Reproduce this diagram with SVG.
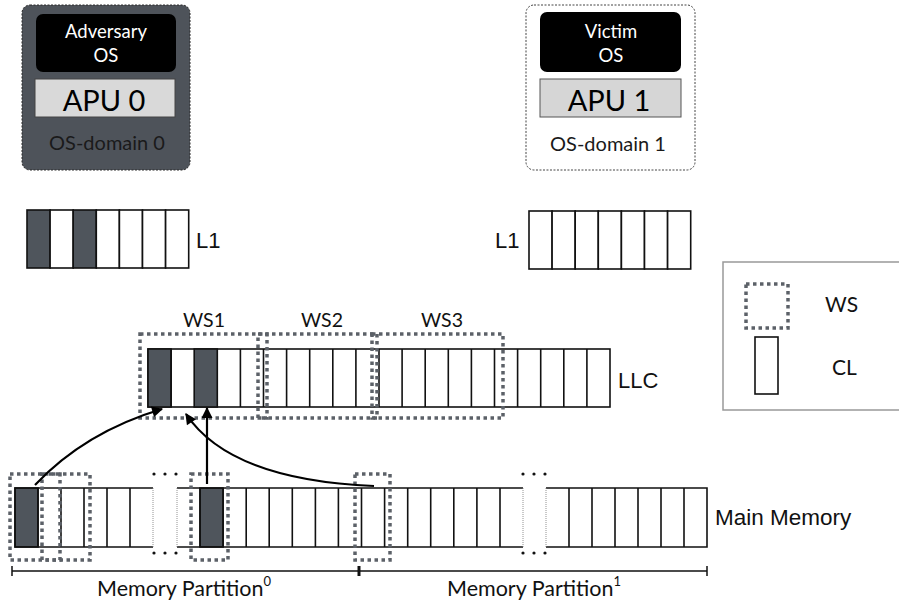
<svg xmlns="http://www.w3.org/2000/svg" width="899" height="605" viewBox="0 0 899 605">
<defs>
<style>
.gill{font-family:Lato,"Open Sans","Liberation Sans",sans-serif;}
.arial{font-family:"Liberation Sans",Arial,sans-serif;fill:#111;}
.cell{fill:#fff;stroke:#111;stroke-width:1.6;}
.dark{fill:#4f555c;stroke:#111;stroke-width:1.6;}
.ws{fill:none;stroke:#5c6168;stroke-width:3.5;stroke-dasharray:3.5 3.5;}
.thin{stroke:#777;stroke-width:0.8;stroke-dasharray:1 1;}
.edge{fill:none;stroke:#111;stroke-width:1.6;}
.conn{fill:none;stroke:#000;stroke-width:2.2;}
.dot{fill:#111;}
</style>
<marker id="ah" viewBox="0 0 10 10" refX="9" refY="5" markerWidth="5.5" markerHeight="5" orient="auto" markerUnits="strokeWidth">
<path d="M0,0 L10,5 L0,10 z" fill="#000"/>
</marker>
</defs>
<rect width="899" height="605" fill="#fff"/>

<g id="adversary-os-domain">
<rect x="22" y="5" width="168" height="165" rx="8" fill="#4e535a" stroke="#2a2a2a" stroke-width="1" stroke-dasharray="2 1.5"/>
<rect x="36" y="14" width="140" height="58" rx="7" fill="#000"/>
<text class="gill" x="106" y="38" font-size="18.5" fill="#fff" text-anchor="middle">Adversary</text>
<text class="gill" x="106" y="62" font-size="18.5" fill="#fff" text-anchor="middle">OS</text>
<rect x="35" y="79" width="140" height="38" fill="#d9d9d9" stroke="#444" stroke-width="1"/>
<text class="gill" x="104" y="111" font-size="29" fill="#000" text-anchor="middle">APU 0</text>
<text class="gill" x="107" y="150" font-size="20" fill="#1a1a1a" text-anchor="middle">OS-domain 0</text>
</g>

<g id="victim-os-domain">
<rect x="526" y="5" width="169" height="165" rx="8" fill="#fff" stroke="#444" stroke-width="1" stroke-dasharray="2 1.5"/>
<rect x="540" y="12" width="141" height="60" rx="7" fill="#000"/>
<text class="gill" x="611" y="38" font-size="18.5" fill="#fff" text-anchor="middle">Victim</text>
<text class="gill" x="611" y="62" font-size="18.5" fill="#fff" text-anchor="middle">OS</text>
<rect x="540" y="79" width="141" height="38" fill="#d6d6d6" stroke="#555" stroke-width="1"/>
<text class="gill" x="609" y="111" font-size="29" fill="#000" text-anchor="middle">APU 1</text>
<text class="gill" x="608" y="151" font-size="20" fill="#1a1a1a" text-anchor="middle">OS-domain 1</text>
</g>

<g id="l1-adversary">
<rect class="dark" x="27" y="210" width="23.1" height="58"/>
<rect class="cell" x="50.1" y="210" width="23.1" height="58"/>
<rect class="dark" x="73.2" y="210" width="23.1" height="58"/>
<rect class="cell" x="96.3" y="210" width="23.1" height="58"/>
<rect class="cell" x="119.4" y="210" width="23.1" height="58"/>
<rect class="cell" x="142.5" y="210" width="23.1" height="58"/>
<rect class="cell" x="165.6" y="210" width="23.1" height="58"/>
<text class="arial" x="196" y="248" font-size="22">L1</text>
</g>

<g id="l1-victim">
<rect class="cell" x="529" y="211" width="23.1" height="58"/>
<rect class="cell" x="552.1" y="211" width="23.1" height="58"/>
<rect class="cell" x="575.2" y="211" width="23.1" height="58"/>
<rect class="cell" x="598.3" y="211" width="23.1" height="58"/>
<rect class="cell" x="621.4" y="211" width="23.1" height="58"/>
<rect class="cell" x="644.5" y="211" width="23.1" height="58"/>
<rect class="cell" x="667.6" y="211" width="23.1" height="58"/>
<text class="arial" x="495" y="248" font-size="22">L1</text>
</g>

<g id="llc">
<rect class="cell" x="148" y="349" width="462" height="58"/>
<rect class="dark" x="148" y="349" width="23.1" height="58"/>
<rect class="dark" x="194.2" y="349" width="23.1" height="58"/>
<path class="edge" d="M240.4,349V407M263.5,349V407M286.6,349V407M309.7,349V407M332.8,349V407M355.9,349V407M379,349V407M402.1,349V407M425.2,349V407M448.3,349V407M471.4,349V407M494.5,349V407M517.6,349V407M540.7,349V407M563.8,349V407M586.9,349V407M171.1,349V407"/>
<text class="arial" x="618" y="388" font-size="22">LLC</text>
</g>

<g id="ws1">
<rect class="ws" x="140" y="334" width="127" height="84"/>
<text class="gill" x="204" y="327" font-size="19.5" fill="#111" text-anchor="middle">WS1</text>
</g>
<g id="ws2">
<rect class="ws" x="258" y="334" width="119" height="84"/>
<text class="gill" x="322" y="327" font-size="19.5" fill="#111" text-anchor="middle">WS2</text>
</g>
<g id="ws3">
<rect class="ws" x="372" y="334" width="131" height="84"/>
<text class="gill" x="442" y="327" font-size="19.5" fill="#111" text-anchor="middle">WS3</text>
</g>

<g id="main-memory">
<rect class="dark" x="15" y="488" width="23" height="59"/>
<path class="edge" d="M153,488H15V547H153M38,488V547M61,488V547M84,488V547M107,488V547M130,488V547"/>
<line class="thin" x1="153" y1="488" x2="153" y2="547"/>
<rect class="dark" x="200" y="488" width="23.07" height="59"/>
<path class="edge" d="M177,488H523M177,547H523M200,488V547M223.1,488V547M246.2,488V547M269.2,488V547M292.3,488V547M315.4,488V547M338.4,488V547M361.5,488V547M384.6,488V547M407.7,488V547M430.7,488V547M453.8,488V547M476.9,488V547M500,488V547"/>
<line class="thin" x1="177" y1="488" x2="177" y2="547"/>
<line class="thin" x1="523" y1="488" x2="523" y2="547"/>
<path class="edge" d="M546,488H707V547H546M569,488V547M592,488V547M615,488V547M638,488V547M661,488V547M684,488V547"/>
<line class="thin" x1="546" y1="488" x2="546" y2="547"/>
<circle class="dot" cx="154" cy="474" r="1.6"/><circle class="dot" cx="165" cy="474" r="1.6"/><circle class="dot" cx="176" cy="474" r="1.6"/>
<circle class="dot" cx="154" cy="553" r="1.6"/><circle class="dot" cx="165" cy="553" r="1.6"/><circle class="dot" cx="176" cy="553" r="1.6"/>
<circle class="dot" cx="523" cy="474" r="1.6"/><circle class="dot" cx="534" cy="474" r="1.6"/><circle class="dot" cx="545" cy="474" r="1.6"/>
<circle class="dot" cx="523" cy="553" r="1.6"/><circle class="dot" cx="534" cy="553" r="1.6"/><circle class="dot" cx="545" cy="553" r="1.6"/>
<text class="arial" x="715" y="525" font-size="22.5">Main Memory</text>
</g>

<g id="memory-ws">
<rect class="ws" x="10" y="474" width="50" height="86"/>
<rect class="ws" x="42" y="474" width="48" height="86"/>
<rect class="ws" x="191" y="474" width="37" height="86"/>
<rect class="ws" x="355" y="474" width="35" height="86"/>
</g>

<g id="partitions">
<path fill="none" stroke="#111" stroke-width="1.5" d="M12,571H707M12,566V576M707,566V576"/>
<path fill="none" stroke="#111" stroke-width="3" d="M359,566V576"/>
<text class="gill" x="97" y="596" font-size="21.5" fill="#111">Memory Partition<tspan font-size="13" dy="-10">0</tspan></text>
<text class="gill" x="447" y="596" font-size="21.5" fill="#111">Memory Partition<tspan font-size="13" dy="-10">1</tspan></text>
</g>

<g id="legend">
<rect x="723" y="262" width="185" height="148" fill="#fff" stroke="#999" stroke-width="1.5"/>
<rect class="ws" x="746" y="284" width="42" height="44"/>
<rect x="755" y="337" width="23" height="57" fill="#fff" stroke="#111" stroke-width="1.6"/>
<text class="gill" x="825" y="312" font-size="21" fill="#111">WS</text>
<text class="gill" x="832" y="375" font-size="21" fill="#111">CL</text>
</g>

<g id="connectors">
<path class="conn" marker-end="url(#ah)" d="M35,485 Q85,432 162,409"/>
<path class="conn" marker-end="url(#ah)" d="M207,484 V408"/>
<path class="conn" marker-end="url(#ah)" d="M374,486 Q230,480 186,414"/>
</g>
</svg>
